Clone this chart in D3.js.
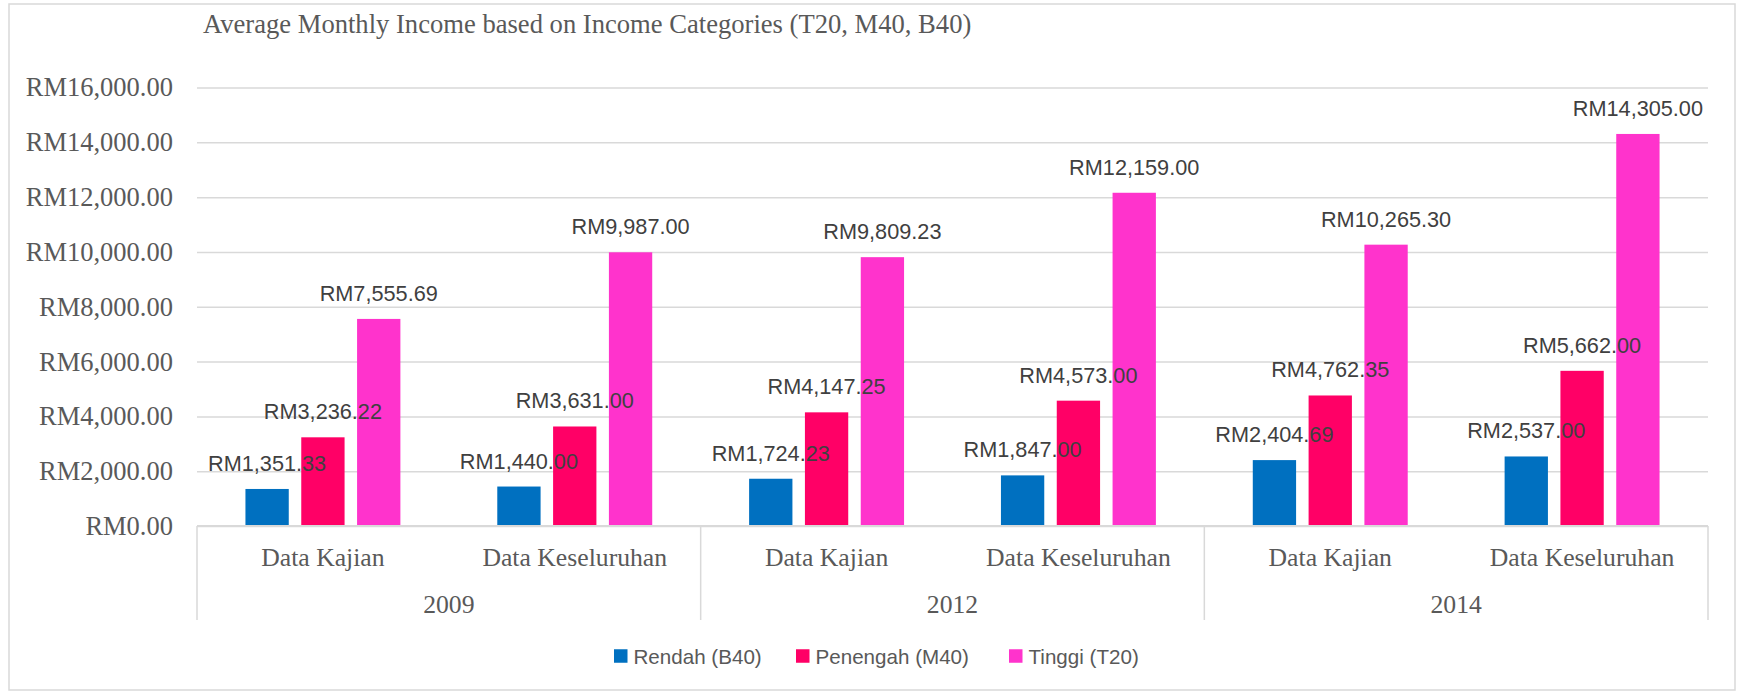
<!DOCTYPE html>
<html>
<head>
<meta charset="utf-8">
<script src="https://cdn.jsdelivr.net/npm/d3@7"></script>
<style>
    body { margin: 0; background: #ffffff; }
    svg { display: block; }
</style>
</head>
<body>
<svg id="drawing_region"></svg>
<script>
const years = ["2009", "2012", "2014"];
const dataTypes = ["Data Kajian", "Data Keseluruhan"];
const seriesNames = ["Rendah (B40)", "Penengah (M40)", "Tinggi (T20)"];
const rendah   = [1351.33, 1440.00, 1724.23, 1847.00, 2404.69, 2537.00];
const penengah = [3236.22, 3631.00, 4147.25, 4573.00, 4762.35, 5662.00];
const tinggi   = [7555.69, 9987.00, 9809.23, 12159.00, 10265.30, 14305.00];
const yTicks = [0, 2000, 4000, 6000, 8000, 10000, 12000, 14000, 16000];
const colors = ["#0070C0", "#FF0066", "#FF33CC"];

// one entry per x category (year + type)
const categories = [];
years.forEach(y => dataTypes.forEach(t => categories.push({ key: y + "|" + t, year: y, type: t })));
const seriesValues = [rendah, penengah, tinggi];

var config = {
    parent: '#drawing_region',
    width: 1739,
    height: 693,
    margin: {top: 87.5, right: 31, bottom: 167, left: 197}
};

class GroupedBar {
    constructor(config) {
        this.config = config;
        this.init();
        this.render();
    }

    init() {
        let self = this;
        self.svg = d3.select(self.config.parent)
            .attr('width', self.config.width)
            .attr('height', self.config.height);

        // outer chart frame
        self.svg.append('rect')
            .attr('x', 9).attr('y', 4)
            .attr('width', self.config.width - 13)
            .attr('height', self.config.height - 7)
            .attr('fill', 'none')
            .attr('stroke', '#d9d9d9')
            .attr('stroke-width', 1.5);

        self.chart = self.svg.append('g')
            .attr('transform', `translate(${self.config.margin.left}, ${self.config.margin.top})`);

        self.inner_width = self.config.width - self.config.margin.left - self.config.margin.right;
        self.inner_height = self.config.height - self.config.margin.top - self.config.margin.bottom;

        self.xscale = d3.scaleBand()
            .domain(categories.map(d => d.key))
            .range([0, self.inner_width])
            .padding(0);

        self.sscale = d3.scaleBand()
            .domain(seriesNames)
            .range([0, self.xscale.bandwidth()])
            .paddingInner(0.224)
            .paddingOuter(0.868);

        self.yscale = d3.scaleLinear()
            .domain([0, 16000])
            .range([self.inner_height, 0]);
    }

    render() {
        let self = this;
        const fmt = d3.format(",.2f");

        // y axis with gridlines
        const yaxis = d3.axisLeft(self.yscale)
            .tickValues(yTicks)
            .tickSize(-self.inner_width)
            .tickPadding(24)
            .tickFormat(d => "RM" + fmt(d));
        const yg = self.chart.append('g').call(yaxis);
        yg.select('.domain').remove();
        yg.selectAll('line')
            .attr('stroke', '#d9d9d9')
            .attr('stroke-width', 1.5);
        yg.selectAll('text')
            .attr('fill', '#595959')
            .attr('font-family', '"Liberation Serif", "Times New Roman", serif')
            .attr('font-size', '26.5px');

        // bars
        const groups = self.chart.selectAll('.cat')
            .data(categories)
            .join('g')
            .attr('class', 'cat')
            .attr('transform', d => `translate(${self.xscale(d.key)}, 0)`);

        seriesNames.forEach((s, si) => {
            groups.append('rect')
                .attr('x', self.sscale(s))
                .attr('y', (d, i) => self.yscale(seriesValues[si][i]))
                .attr('width', self.sscale.bandwidth())
                .attr('height', (d, i) => self.inner_height - self.yscale(seriesValues[si][i]))
                .attr('fill', colors[si]);
        });

        // data labels
        seriesNames.forEach((s, si) => {
            groups.append('text')
                .attr('x', self.sscale(s) + self.sscale.bandwidth() / 2)
                .attr('y', (d, i) => self.yscale(seriesValues[si][i]) - 18)
                .attr('text-anchor', 'middle')
                .attr('fill', '#404040')
                .attr('font-family', '"Liberation Sans", Arial, sans-serif')
                .attr('font-size', '21.7px')
                .text((d, i) => "RM" + fmt(seriesValues[si][i]));
        });

        // category axis
        self.chart.append('line')
            .attr('x1', 0).attr('x2', self.inner_width)
            .attr('y1', self.inner_height).attr('y2', self.inner_height)
            .attr('stroke', '#d9d9d9')
            .attr('stroke-width', 2);

        const xaxis = d3.axisBottom(self.xscale)
            .tickSize(0)
            .tickPadding(0)
            .tickFormat(k => categories.find(c => c.key === k).type);
        const xg = self.chart.append('g')
            .attr('transform', `translate(0, ${self.inner_height})`)
            .call(xaxis);
        xg.select('.domain').remove();
        xg.selectAll('text')
            .attr('dy', null)
            .attr('y', 40)
            .attr('fill', '#595959')
            .attr('font-family', '"Liberation Serif", "Times New Roman", serif')
            .attr('font-size', '25.7px');

        // year separators
        const seps = years.map((y, i) => self.xscale(categories[i * 2].key));
        seps.push(self.inner_width);
        self.chart.selectAll('.sep')
            .data(seps)
            .join('line')
            .attr('class', 'sep')
            .attr('x1', d => d).attr('x2', d => d)
            .attr('y1', self.inner_height)
            .attr('y2', self.inner_height + 94)
            .attr('stroke', '#d9d9d9')
            .attr('stroke-width', 1.5);

        // year labels
        self.chart.selectAll('.year')
            .data(years)
            .join('text')
            .attr('class', 'year')
            .attr('x', (y, i) => self.xscale(categories[i * 2].key) + self.xscale.bandwidth())
            .attr('y', self.inner_height + 87)
            .attr('text-anchor', 'middle')
            .attr('fill', '#595959')
            .attr('font-family', '"Liberation Serif", "Times New Roman", serif')
            .attr('font-size', '25.7px')
            .text(d => d);

        // title
        self.svg.append('text')
            .attr('x', 203)
            .attr('y', 33)
            .attr('fill', '#595959')
            .attr('font-family', '"Liberation Serif", "Times New Roman", serif')
            .attr('font-size', '26.6px')
            .text('Average Monthly Income based on Income Categories (T20, M40, B40)');

        // legend
        const legendX = [614, 796, 1009];
        const legend = self.svg.selectAll('.legend')
            .data(seriesNames)
            .join('g')
            .attr('class', 'legend')
            .attr('transform', (d, i) => `translate(${legendX[i]}, 656)`);
        legend.append('rect')
            .attr('x', 0).attr('y', -6.75)
            .attr('width', 13.5).attr('height', 13.5)
            .attr('fill', (d, i) => colors[i]);
        legend.append('text')
            .attr('x', 19.5)
            .attr('y', 7.5)
            .attr('fill', '#595959')
            .attr('font-family', '"Liberation Sans", Arial, sans-serif')
            .attr('font-size', '20.6px')
            .text(d => d);
    }
}

new GroupedBar(config);
</script>
</body>
</html>
